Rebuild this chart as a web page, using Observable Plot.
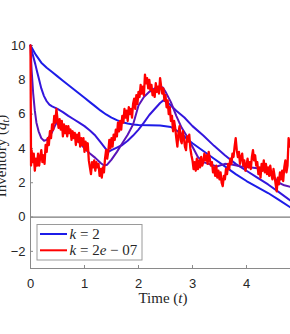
<!DOCTYPE html>
<html><head><meta charset="utf-8">
<script src="https://cdn.jsdelivr.net/npm/d3@7"></script>
<script src="https://cdn.jsdelivr.net/npm/@observablehq/plot@0.6"></script>
<style>body{margin:0;background:#fff;overflow:hidden} svg{display:block}</style>
</head><body><div id="chart"></div>
<script>
const xTicks = [0, 1, 2, 3, 4];
const yTicks = [-2, 0, 2, 4, 6, 8, 10];
const seriesNames = ["k2", "k2e-3", "k2e-5", "k2e-7"];
const seriesColors = ["#1c1ce8", "#3316dd", "#5a14b8", "#ff0000"];
const legendLabels = [["k", " = 2"], ["k", " = 2", "e", " − 07"]];

const tA = [0,0.1,0.2,0.3,0.4,0.5,0.6,0.7,0.8,0.9,1.0,1.1,1.2,1.3,1.4,1.5,1.6,1.7,1.8,1.9,2.0,2.2,2.4,2.6,2.7,2.8,2.9,3.0,3.2,3.4,3.6,3.8,4.0,4.2,4.4,4.6,4.82];
const yA = [10,9.45,9.0,8.7,8.45,8.2,7.95,7.7,7.45,7.2,6.95,6.7,6.45,6.2,5.98,5.8,5.65,5.52,5.45,5.4,5.37,5.35,5.33,5.25,5.05,4.85,4.55,4.3,3.85,3.4,2.95,2.5,2.1,1.75,1.4,1.0,0.55];

const tB = [0,0.03,0.06,0.09,0.12,0.16,0.2,0.25,0.3,0.35,0.4,0.45,0.5,0.6,0.7,0.8,0.9,1.0,1.1,1.2,1.3,1.4,1.45,1.5,1.6,1.7,1.8,1.9,2.0,2.1,2.2,2.3,2.4,2.46,2.55,2.7,2.85,3.0,3.2,3.4,3.6,3.8,4.0,4.2,4.4,4.6,4.82];
const yB = [10,9.6,9.25,8.9,8.5,8.0,7.5,7.05,6.75,6.55,6.45,6.38,6.3,6.12,5.9,5.7,5.5,5.3,5.05,4.75,4.35,3.95,3.82,3.9,4.05,4.2,4.45,4.75,5.1,5.5,5.95,6.3,6.65,6.8,6.65,6.2,5.8,5.3,4.75,4.15,3.6,3.1,2.7,2.3,1.9,1.45,0.95];

const tC = [0,0.02,0.05,0.08,0.11,0.15,0.2,0.25,0.3,0.35,0.4,0.45,0.5,0.55,0.6,0.7,0.8,0.9,1.0,1.1,1.2,1.3,1.36,1.42,1.5,1.6,1.7,1.8,1.9,2.0,2.1,2.2,2.3,2.4,2.45,2.5,2.6,2.7,2.8,2.9,3.0,3.1,3.2,3.3,3.45,3.6,3.75,3.9,4.05,4.2,4.35,4.5,4.6,4.7,4.82];
const yC = [10,8.6,7.2,6.2,5.5,5.0,4.6,4.45,4.5,4.7,4.95,5.3,5.6,5.55,5.3,5.0,4.7,4.35,4.0,3.7,3.45,3.15,3.0,3.05,3.35,3.8,4.3,4.8,5.4,6.5,7.0,7.3,7.5,7.6,7.55,7.3,6.7,5.9,5.2,4.7,4.1,3.5,3.2,3.1,2.95,3.1,3.05,2.95,2.9,2.85,2.7,2.35,2.0,1.85,1.75];

const tR = [0,0.01,0.02,0.04,0.06,0.08,0.10,0.12,0.14,0.16,0.18,0.20,0.22,0.24,0.26,0.28,0.30,0.32,0.34,0.36,0.38,0.40,0.42,0.44,0.46,0.48,0.50,0.52,0.54,0.56,0.58,0.60,0.62,0.64,0.66,0.68,0.70,0.72,0.74,0.76,0.78,0.80,0.82,0.84,0.86,0.88,0.90,0.92,0.94,0.96,0.98,1.00,1.02,1.04,1.06,1.08,1.10,1.12,1.14,1.16,1.18,1.20,1.22,1.24,1.26,1.28,1.30,1.32,1.34,1.36,1.38,1.40,1.42,1.44,1.46,1.48,1.50,1.52,1.54,1.56,1.58,1.60,1.62,1.64,1.66,1.68,1.70,1.72,1.74,1.76,1.78,1.80,1.82,1.84,1.86,1.88,1.90,1.92,1.94,1.96,1.98,2.00,2.02,2.04,2.06,2.08,2.10,2.12,2.14,2.16,2.18,2.20,2.22,2.24,2.26,2.28,2.30,2.32,2.34,2.36,2.38,2.40,2.42,2.44,2.46,2.48,2.50,2.52,2.54,2.56,2.58,2.60,2.62,2.64,2.66,2.68,2.70,2.72,2.74,2.76,2.78,2.80,2.82,2.84,2.86,2.88,2.90,2.92,2.94,2.96,2.98,3.00,3.02,3.04,3.06,3.08,3.10,3.12,3.14,3.16,3.18,3.20,3.22,3.24,3.26,3.28,3.30,3.32,3.34,3.36,3.38,3.40,3.42,3.44,3.46,3.48,3.50,3.52,3.54,3.56,3.58,3.60,3.62,3.64,3.66,3.68,3.70,3.72,3.74,3.76,3.78,3.80,3.82,3.84,3.86,3.88,3.90,3.92,3.94,3.96,3.98,4.00,4.02,4.04,4.06,4.08,4.10,4.12,4.14,4.16,4.18,4.20,4.22,4.24,4.26,4.28,4.30,4.32,4.34,4.36,4.38,4.40,4.42,4.44,4.46,4.48,4.50,4.52,4.54,4.56,4.58,4.60,4.62,4.64,4.66,4.68,4.70,4.72,4.74,4.76,4.78,4.80,4.82];
const yR = [10,3.0,3.9,3.2,3.7,2.7,3.4,3.0,3.7,3.0,3.5,3.9,3.2,3.6,3.1,4.2,3.8,4.6,4.2,5.0,4.6,5.4,5.1,5.9,5.5,6.3,5.7,5.2,5.7,5.1,5.6,4.7,5.4,4.9,5.3,4.7,5.3,4.9,5.1,4.5,5.0,4.6,4.9,4.2,4.8,4.4,4.9,4.1,4.6,4.2,4.6,3.8,4.4,3.9,4.3,3.3,2.9,2.5,3.2,2.9,3.3,2.7,3.2,2.9,3.1,2.4,2.8,2.3,2.9,2.6,3.4,3.9,3.4,3.8,4.5,4.0,4.6,4.1,4.8,4.5,5.1,4.7,5.5,5.0,5.6,5.1,5.9,5.5,6.3,5.8,6.2,5.6,6.4,6.0,6.3,5.8,6.6,6.9,6.3,7.1,6.6,7.3,7.0,7.7,7.2,7.6,7.1,8.3,7.8,8.1,7.5,8.0,7.4,7.7,7.1,7.4,7.0,7.8,7.3,7.6,7.2,8.1,7.6,7.2,7.5,6.8,7.1,6.4,6.8,6.0,6.4,5.6,5.9,5.0,5.6,5.2,4.6,4.1,4.9,5.3,4.5,4.3,5.0,4.6,4.1,3.9,4.7,4.4,4.8,4.0,3.6,3.3,2.8,3.2,2.7,3.4,2.8,3.3,2.9,3.5,3.0,3.2,3.7,3.3,3.6,3.1,3.8,3.4,3.0,3.2,2.6,2.9,2.4,3.0,2.3,2.7,2.2,2.6,2.0,1.8,2.4,2.2,2.8,2.5,3.1,2.8,3.4,3.1,3.7,3.5,4.1,4.6,3.9,3.5,3.8,3.1,3.5,3.7,3.0,3.3,2.7,3.0,3.4,2.9,3.2,2.8,3.5,3.9,3.3,3.6,3.0,3.2,2.5,2.9,2.3,3.1,2.7,3.3,2.6,3.1,2.5,2.9,2.4,3.0,2.5,2.2,2.8,2.4,1.9,1.5,2.3,1.9,2.6,2.2,2.7,2.1,2.9,3.3,2.6,3.0,4.6,4.1,4.5];

const ts = [tA, tB, tC, tR], ys = [yA, yB, yC, yR];
const rows = [];
seriesNames.forEach((s, k) => ts[k].forEach((t, i) => rows.push({t, q: ys[k][i], s})));

const axisGray = "#8a8a8a";
const plot = Plot.plot({
  width: 290, height: 334,
  marginLeft: 30, marginRight: 0, marginTop: 45, marginBottom: 66,
  x: {domain: [0, 4.815]},
  y: {domain: [-3, 10]},
  color: {domain: seriesNames, range: seriesColors},
  style: {background: "white", fontFamily: "'Liberation Sans', Arial, sans-serif", fontSize: "13px", color: "#262626"},
  marks: [
    Plot.ruleY([0], {stroke: "#7a7a7a", strokeWidth: 1.3}),
    Plot.ruleX([0], {stroke: axisGray}),
    Plot.ruleY([-3], {stroke: axisGray}),
    Plot.ruleX(xTicks, {x: d => d, y1: -3, y2: -3, insetTop: -3, stroke: axisGray}),
    Plot.ruleY(yTicks, {y: d => d, x1: 0, x2: 0, insetRight: -3, stroke: axisGray}),
    Plot.line(rows.filter(d => d.s !== "k2e-7"), {x: "t", y: "q", z: "s", stroke: "s", strokeWidth: 2, strokeLinejoin: "round"}),
    Plot.line(rows.filter(d => d.s === "k2e-7"), {x: "t", y: "q", stroke: "s", strokeWidth: 2.3, strokeLinejoin: "round"}),
    Plot.axisX(xTicks, {tickSize: 0, tickPadding: 10, label: null}),
    Plot.axisY(yTicks, {tickSize: 0, tickPadding: 5, label: null})
  ]
});
document.getElementById("chart").appendChild(plot);

const svg = d3.select(plot);
const serif = "'Liberation Serif', 'Times New Roman', serif";
// x label
const xl = svg.append("text").attr("x", 163).attr("y", 303).attr("text-anchor", "middle")
  .attr("font-family", serif).attr("font-size", 15).attr("fill", "#262626");
xl.append("tspan").text("Time (");
xl.append("tspan").attr("font-style", "italic").text("t");
xl.append("tspan").text(")");
// y label
const yl = svg.append("text").attr("transform", "translate(6,156) rotate(-90)").attr("text-anchor", "middle")
  .attr("font-family", serif).attr("font-size", 15).attr("fill", "#262626");
yl.append("tspan").text("Inventory (");
yl.append("tspan").attr("font-style", "italic").text("q");
yl.append("tspan").attr("font-style", "italic").attr("font-size", 10).attr("baseline-shift", "-25%").text("t");
yl.append("tspan").text(")");
// legend
const lg = svg.append("g");
lg.append("rect").attr("x", 37).attr("y", 224.5).attr("width", 105).attr("height", 35.5)
  .attr("fill", "white").attr("stroke", "#9a9a9a").attr("stroke-width", 1);
[0, 1].forEach(j => {
  const yy = 234 + j * 16.3;
  const col = j === 0 ? seriesColors[0] : seriesColors[3];
  lg.append("line").attr("x1", 40).attr("x2", 67).attr("y1", yy).attr("y2", yy).attr("stroke", col).attr("stroke-width", 2);
  const tx = lg.append("text").attr("x", 69.5).attr("y", yy + 5).attr("text-anchor", "start")
    .attr("font-family", serif).attr("font-size", 15).attr("fill", "#262626");
  legendLabels[j].forEach((part, p) => {
    const ts2 = tx.append("tspan").text(part);
    if (p % 2 === 0) ts2.attr("font-style", "italic");
  });
});
</script></body></html>
